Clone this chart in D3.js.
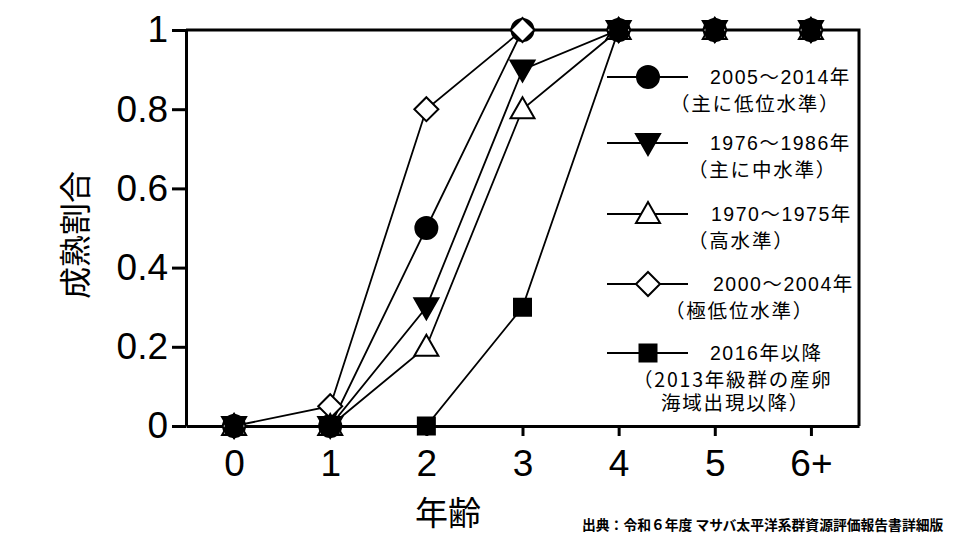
<!DOCTYPE html>
<html>
<head>
<meta charset="utf-8">
<script src="https://cdn.jsdelivr.net/npm/d3@7"></script>
<style>
  body { margin: 0; background: #fff; }
  svg { display: block; }
  text { font-family: "Liberation Sans", Arial, "Noto Sans CJK JP", sans-serif; fill: #000; }
  .cjk { font-family: "Noto Sans CJK JP", "Liberation Sans", sans-serif; }
</style>
</head>
<body>
<svg id="chart" width="960" height="538"></svg>
<script>
// 年齢 categories
var ages = ["0", "1", "2", "3", "4", "5", "6+"];
var yTicks = [0, 0.2, 0.4, 0.6, 0.8, 1];

// maturity ratio by age for each period
var mat2005 = [0, 0, 0.5, 1, 1, 1, 1];
var mat1976 = [0, 0, 0.3, 0.9, 1, 1, 1];
var mat1970 = [0, 0, 0.2, 0.8, 1, 1, 1];
var mat2000 = [0, 0.05, 0.8, 1, 1, 1, 1];
var mat2016 = [0, 0, 0, 0.3, 1, 1, 1];

var seriesNames = [
  ["2005～2014年", "（主に低位水準）"],
  ["1976～1986年", "（主に中水準）"],
  ["1970～1975年", "（高水準）"],
  ["2000～2004年", "（極低位水準）"],
  ["2016年以降", "（2013年級群の産卵", "海域出現以降）"]
];

function drawChart() {
  var series = [
    {name: seriesNames[0], values: mat2005, shape: "circle",  fill: "#000"},
    {name: seriesNames[1], values: mat1976, shape: "tridown", fill: "#000"},
    {name: seriesNames[2], values: mat1970, shape: "triup",   fill: "#fff"},
    {name: seriesNames[3], values: mat2000, shape: "diamond", fill: "#fff"},
    {name: seriesNames[4], values: mat2016, shape: "square",  fill: "#000"}
  ];

  var svg = d3.select("#chart");
  var pLeft = 186, pRight = 859, pTop = 30, pBottom = 426;

  var x = d3.scalePoint().domain(ages).range([pLeft, pRight]).padding(0.5);
  var y = d3.scaleLinear().domain([0, 1]).range([pBottom, pTop]);

  function shapePath(shape) {
    switch (shape) {
      case "circle": return "M11,0A11,11 0 1,1 -11,0A11,11 0 1,1 11,0Z";
      case "tridown": return "M-12,-9L12,-9L0,12Z";
      case "triup": return "M-12,9L12,9L0,-12Z";
      case "diamond": return "M0,-12L12,0L0,12L-12,0Z";
      case "square": return "M-8.5,-8.5H8.5V8.5H-8.5Z";
    }
  }

  // frame (top and right)
  svg.append("path")
      .attr("d", "M" + pLeft + "," + pTop + "H" + pRight + "V" + pBottom)
      .attr("fill", "none")
      .attr("stroke", "#000")
      .attr("stroke-width", 3);

  svg.append("g")
      .attr("transform", "translate(" + pLeft + ",0)")
      .call(d3.axisLeft(y).tickValues(yTicks).tickSize(14).tickSizeOuter(0).tickPadding(4)
        .tickFormat(function(d) { return String(d); }));

  svg.append("g")
      .attr("transform", "translate(0," + pBottom + ")")
      .call(d3.axisBottom(x).tickSize(10).tickSizeOuter(0).tickPadding(14));

  svg.selectAll(".domain, .tick line")
      .attr("stroke", "#000")
      .attr("stroke-width", 3);
  svg.selectAll(".tick text")
      .style("font-family", "'Liberation Sans', Arial, sans-serif")
      .style("font-size", "37px")
      .attr("fill", "#000");

  // lines
  var line = d3.line()
      .x(function(d, i) { return x(ages[i]); })
      .y(function(d) { return y(d); });

  svg.append("g").selectAll("path")
    .data(series)
    .enter().append("path")
      .attr("d", function(s) { return line(s.values); })
      .attr("fill", "none")
      .attr("stroke", "#000")
      .attr("stroke-width", 1.8);

  // markers, stacked like the original (diamond over circle, triangles and square on top)
  [0, 3, 2, 1, 4].forEach(function(k) {
    var s = series[k];
    svg.append("g").selectAll("path")
      .data(s.values)
      .enter().append("path")
        .attr("transform", function(d, i) { return "translate(" + x(ages[i]) + "," + y(d) + ")"; })
        .attr("d", shapePath(s.shape))
        .attr("fill", s.fill)
        .attr("stroke", "#000")
        .attr("stroke-width", 2);
  });

  // legend
  var legendY = [77, 143, 214, 284, 353];
  var textX = [[710, 670], [710, 688], [711, 688], [713, 665], [710, 633, 661]];
  var legend = svg.append("g");
  series.forEach(function(s, k) {
    var g = legend.append("g").attr("transform", "translate(0," + legendY[k] + ")");
    g.append("line")
        .attr("x1", 607).attr("x2", 688)
        .attr("stroke", "#000").attr("stroke-width", 2);
    g.append("path")
        .attr("transform", "translate(648,0)")
        .attr("d", shapePath(s.shape))
        .attr("fill", s.fill)
        .attr("stroke", "#000")
        .attr("stroke-width", 2);
    s.name.forEach(function(t, j) {
      g.append("text")
          .attr("class", j === 0 ? "" : "cjk")
          .attr("x", textX[k][j])
          .attr("y", j === 0 ? 7 : (j === 1 ? 34 : 57))
          .style("font-size", "19.5px")
          .style("letter-spacing", j === 0 ? "1.5px" : "1.8px")
          .text(t);
    });
  });

  // axis titles
  svg.append("text")
      .attr("class", "cjk")
      .attr("transform", "translate(87,235) rotate(-90)")
      .attr("text-anchor", "middle")
      .style("font-size", "32px")
      .text("成熟割合");

  svg.append("text")
      .attr("class", "cjk")
      .attr("x", 448)
      .attr("y", 525)
      .attr("text-anchor", "middle")
      .style("font-size", "33px")
      .text("年齢");

  svg.append("text")
      .attr("class", "cjk")
      .attr("x", 582)
      .attr("y", 530)
      .style("font-size", "13.8px")
      .style("font-weight", "bold")
      .text("出典：令和６年度 マサバ太平洋系群資源評価報告書詳細版");
}

drawChart();
</script>
</body>
</html>
